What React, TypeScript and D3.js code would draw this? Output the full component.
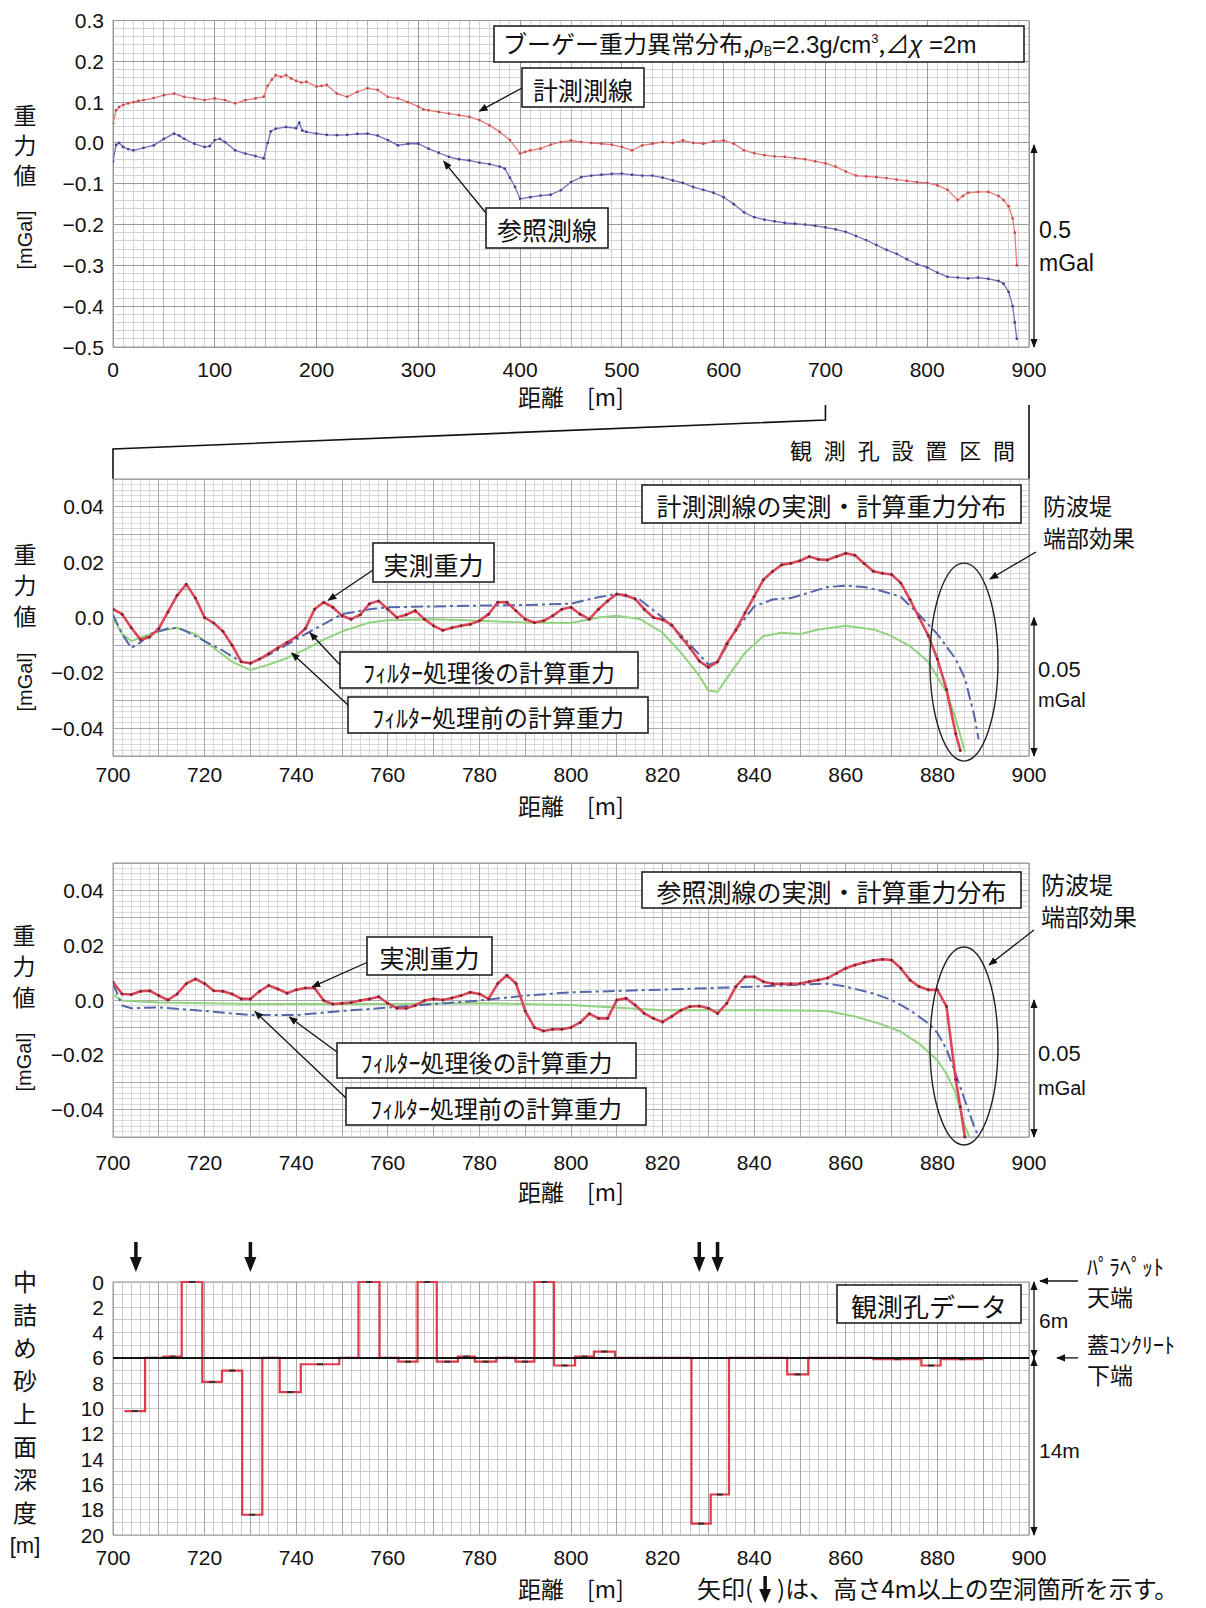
import { useEffect, useRef } from 'react';
import * as d3 from 'd3';

// ---------- top panel : Bouguer anomaly 0-900 m ----------
const surveyDist = [0, 3, 6, 10, 15, 20, 25, 30, 40, 50, 60, 70, 80, 90, 100, 110, 120, 130, 140, 148, 152, 156, 160, 165, 170, 175, 180, 185, 190, 200, 205, 210, 220, 230, 240, 250, 260, 270, 280, 290, 300, 305, 310, 320, 330, 340, 350, 360, 370, 380, 390, 400, 405, 410, 420, 430, 440, 450, 460, 470, 480, 490, 500, 510, 520, 530, 540, 550, 560, 570, 580, 590, 600, 610, 620, 630, 640, 650, 660, 670, 680, 690, 700, 710, 720, 730, 740, 750, 760, 770, 780, 790, 800, 810, 820, 830, 835, 840, 850, 860, 870, 875, 880, 884, 886, 888];
const surveyVal = [0.048, 0.08, 0.088, 0.093, 0.097, 0.1, 0.103, 0.105, 0.11, 0.117, 0.121, 0.113, 0.109, 0.105, 0.109, 0.105, 0.097, 0.105, 0.109, 0.113, 0.14, 0.155, 0.166, 0.162, 0.166, 0.158, 0.152, 0.148, 0.15, 0.138, 0.14, 0.142, 0.121, 0.113, 0.125, 0.134, 0.13, 0.113, 0.109, 0.1, 0.089, 0.082, 0.08, 0.076, 0.072, 0.068, 0.064, 0.056, 0.043, 0.027, 0.007, -0.026, -0.022, -0.018, -0.014, -0.004, 0.002, 0.006, 0.002, 0.0, -0.002, -0.004, -0.01, -0.018, -0.006, -0.002, 0.002, 0.0, 0.006, 0.0, -0.002, 0.004, 0.006, -0.002, -0.018, -0.025, -0.03, -0.033, -0.034, -0.037, -0.04, -0.045, -0.05, -0.058, -0.07, -0.08, -0.082, -0.084, -0.086, -0.09, -0.093, -0.096, -0.098, -0.104, -0.115, -0.14, -0.13, -0.122, -0.12, -0.12, -0.13, -0.14, -0.155, -0.185, -0.22, -0.3];

const refDist = [0, 3, 6, 10, 15, 20, 30, 40, 50, 60, 65, 70, 80, 90, 95, 100, 105, 110, 120, 130, 140, 148, 152, 155, 160, 170, 180, 183, 186, 190, 200, 210, 220, 230, 240, 250, 260, 270, 280, 290, 300, 310, 320, 330, 340, 350, 360, 370, 380, 385, 390, 395, 400, 410, 420, 430, 440, 450, 460, 470, 480, 490, 500, 510, 520, 530, 540, 550, 560, 570, 580, 590, 600, 610, 620, 630, 640, 650, 660, 670, 680, 690, 700, 710, 720, 730, 740, 750, 760, 770, 780, 790, 800, 810, 820, 830, 840, 850, 860, 870, 875, 880, 884, 886, 888];
const refVal = [-0.045, -0.005, 0.0, -0.01, -0.015, -0.018, -0.012, -0.006, 0.01, 0.023, 0.018, 0.01, -0.002, -0.01, -0.008, 0.007, 0.01, 0.002, -0.018, -0.026, -0.032, -0.038, 0.0, 0.028, 0.035, 0.039, 0.036, 0.05, 0.03, 0.027, 0.023, 0.02, 0.019, 0.02, 0.022, 0.023, 0.018, 0.007, -0.006, -0.002, -0.002, -0.014, -0.024, -0.034, -0.04, -0.043, -0.048, -0.052, -0.058, -0.063, -0.085, -0.108, -0.137, -0.133, -0.129, -0.127, -0.116, -0.096, -0.084, -0.08, -0.078, -0.076, -0.075, -0.078, -0.08, -0.08, -0.085, -0.092, -0.098, -0.108, -0.115, -0.122, -0.133, -0.15, -0.17, -0.182, -0.188, -0.192, -0.196, -0.198, -0.2, -0.203, -0.207, -0.212, -0.218, -0.228, -0.238, -0.25, -0.262, -0.272, -0.285, -0.297, -0.305, -0.318, -0.328, -0.33, -0.332, -0.33, -0.333, -0.338, -0.345, -0.365, -0.4, -0.44, -0.48];

// ---------- panel 2 : survey line, 700-900 m ----------
const meas2Dist = [700, 702, 704, 706, 708, 710, 712, 714, 716, 718, 720, 722, 724, 726, 728, 730, 732, 734, 736, 738, 740, 742, 744, 746, 748, 750, 752, 754, 756, 758, 760, 762, 764, 766, 768, 770, 772, 774, 776, 778, 780, 782, 784, 786, 788, 790, 792, 794, 796, 798, 800, 802, 804, 806, 808, 810, 812, 814, 816, 818, 820, 822, 824, 826, 828, 830, 832, 834, 836, 838, 840, 842, 844, 846, 848, 850, 852, 854, 856, 858, 860, 862, 864, 866, 868, 870, 872, 874, 876, 878, 880, 882, 884, 885];
const meas2Val = [0.003, 0.0012, -0.0037, -0.008, -0.007, -0.004, 0.002, 0.008, 0.012, 0.007, 0.0, -0.002, -0.005, -0.01, -0.016, -0.0165, -0.015, -0.013, -0.011, -0.009, -0.007, -0.004, 0.003, 0.0055, 0.0037, 0.0006, -0.0006, 0.001, 0.005, 0.006, 0.003, 0.0, 0.001, 0.0025, -0.0006, -0.003, -0.0046, -0.0037, -0.003, -0.0024, -0.0012, 0.0012, 0.0055, 0.0055, 0.0024, -0.0006, -0.0018, -0.0012, 0.0006, 0.003, 0.0037, 0.0012, -0.0006, 0.003, 0.006, 0.0085, 0.008, 0.0067, 0.003, 0.0, -0.0008, -0.0027, -0.007, -0.011, -0.0157, -0.018, -0.016, -0.0095, -0.0045, 0.0017, 0.0076, 0.0136, 0.0166, 0.019, 0.0196, 0.0205, 0.022, 0.021, 0.0208, 0.022, 0.0232, 0.0225, 0.0195, 0.0167, 0.016, 0.0155, 0.0125, 0.0065, 0.0, -0.0065, -0.015, -0.026, -0.042, -0.048];
const after2Dist = [700, 702, 704, 706, 708, 710, 712, 714, 716, 720, 724, 728, 730, 734, 738, 742, 746, 750, 756, 760, 770, 780, 790, 800, 805, 810, 815, 820, 825, 830, 832, 836, 840, 844, 848, 852, 856, 860, 864, 868, 872, 876, 880, 884, 886, 888, 889];
const after2Val = [0.001, -0.006, -0.011, -0.009, -0.006, -0.005, -0.004, -0.0037, -0.005, -0.0085, -0.012, -0.016, -0.0165, -0.0135, -0.0098, -0.006, -0.0024, 0.0012, 0.003, 0.0037, 0.004, 0.0043, 0.0045, 0.005, 0.007, 0.0085, 0.0065, 0.0, -0.008, -0.017, -0.016, -0.0045, 0.004, 0.0065, 0.007, 0.009, 0.011, 0.0115, 0.011, 0.0095, 0.0075, 0.001, -0.006, -0.015, -0.022, -0.035, -0.044];
const before2Dist = [700, 702, 704, 706, 710, 714, 718, 722, 726, 730, 734, 738, 742, 746, 750, 756, 760, 770, 780, 790, 800, 806, 810, 815, 820, 824, 828, 830, 832, 834, 838, 842, 846, 850, 854, 860, 866, 870, 874, 878, 882, 884, 886];
const before2Val = [0.0, -0.006, -0.0085, -0.0073, -0.005, -0.0037, -0.006, -0.011, -0.016, -0.019, -0.017, -0.0146, -0.0115, -0.008, -0.005, -0.0018, -0.001, -0.0006, -0.0012, -0.0018, -0.002, 0.0, 0.0006, -0.0005, -0.0055, -0.0127, -0.021, -0.0264, -0.0268, -0.022, -0.0127, -0.0067, -0.0055, -0.006, -0.0043, -0.003, -0.0043, -0.0067, -0.0103, -0.016, -0.027, -0.0366, -0.0485];

// ---------- panel 3 : reference line, 700-900 m ----------
const meas3Dist = [700, 702, 704, 706, 708, 710, 712, 714, 716, 718, 720, 722, 724, 726, 728, 730, 732, 734, 736, 738, 740, 742, 744, 746, 748, 750, 752, 754, 756, 758, 760, 762, 764, 766, 768, 770, 772, 774, 776, 778, 780, 782, 784, 786, 788, 790, 792, 794, 796, 798, 800, 802, 804, 806, 808, 810, 812, 814, 816, 818, 820, 822, 824, 826, 828, 830, 832, 834, 836, 838, 840, 842, 844, 846, 848, 850, 852, 854, 856, 858, 860, 862, 864, 866, 868, 870, 872, 874, 876, 878, 880, 882, 884, 885, 886];
const meas3Val = [0.0065, 0.0022, 0.002, 0.0032, 0.0034, 0.0016, 0.0, 0.0022, 0.006, 0.0077, 0.006, 0.0034, 0.0032, 0.0022, 0.0004, 0.0004, 0.0032, 0.0053, 0.004, 0.0025, 0.0037, 0.0044, 0.0044, -0.0002, -0.0015, -0.0012, -0.0009, -0.0002, 0.0004, 0.0012, -0.0012, -0.003, -0.003, -0.002, -0.0002, 0.0004, 0.0, 0.0007, 0.0016, 0.0028, 0.0022, 0.0004, 0.006, 0.009, 0.006, -0.004, -0.01, -0.0113, -0.0107, -0.0107, -0.01, -0.0082, -0.005, -0.0067, -0.0067, 0.0, 0.0006, -0.0018, -0.0049, -0.0067, -0.008, -0.006, -0.0037, -0.0024, -0.0022, -0.003, -0.0049, -0.0012, 0.0049, 0.0085, 0.0085, 0.0067, 0.0059, 0.0059, 0.0059, 0.006, 0.0067, 0.0073, 0.008, 0.0098, 0.0116, 0.0128, 0.0137, 0.0144, 0.0149, 0.0146, 0.0116, 0.0073, 0.0049, 0.0037, 0.0037, -0.0024, -0.029, -0.039, -0.05];
const after3Dist = [700, 702, 704, 710, 720, 730, 740, 750, 760, 770, 780, 790, 800, 810, 820, 840, 856, 860, 866, 870, 874, 878, 880, 882, 884, 886, 888, 889];
const after3Val = [0.006, -0.002, -0.003, -0.0027, -0.004, -0.0055, -0.0055, -0.004, -0.0028, -0.0015, -0.0002, 0.0016, 0.0028, 0.0033, 0.0038, 0.0049, 0.006, 0.0049, 0.0024, 0.0, -0.0037, -0.0085, -0.012, -0.018, -0.027, -0.0366, -0.046, -0.05];
const before3Dist = [700, 702, 710, 720, 730, 740, 760, 780, 800, 820, 840, 850, 856, 862, 868, 872, 876, 880, 882, 884, 886, 887];
const before3Val = [0.002, -0.0002, -0.0009, -0.0012, -0.0015, -0.0015, -0.0015, -0.0012, -0.0018, -0.0037, -0.0037, -0.0038, -0.004, -0.006, -0.009, -0.0116, -0.0159, -0.022, -0.027, -0.034, -0.046, -0.05];

// ---------- panel 4 : borehole data (start of interval, sand depth) ----------
const holeStart = [702.5, 707, 711, 715, 719.5, 723.8, 728.2, 732.6, 736.4, 741, 749.4, 753.6, 758.2, 762.3, 766.5, 770.7, 775.3, 779, 783.7, 787.9, 792, 796.3, 800.9, 805, 809.6, 826.3, 830.5, 834.5, 847.2, 851.8, 866, 876.5, 880.7, 890];
const holeDepth = [10.2, 6.0, 5.9, 0, 7.9, 7.0, 18.4, 6.0, 8.7, 6.5, 6.0, 0, 6.0, 6.3, 0, 6.3, 5.9, 6.3, 6.0, 6.3, 0, 6.6, 5.9, 5.5, 6.0, 19.1, 16.8, 6.0, 7.3, 6.0, 6.1, 6.6, 6.1, 6.1];
const voidArrows = [705, 730, 828, 832];

const topXTicks = [0, 100, 200, 300, 400, 500, 600, 700, 800, 900];
const topYTicks = [0.3, 0.2, 0.1, 0.0, -0.1, -0.2, -0.3, -0.4, -0.5];
const zoomXTicks = [700, 720, 740, 760, 780, 800, 820, 840, 860, 880, 900];
const zoomYTicks = [0.04, 0.02, 0.0, -0.02, -0.04];
const zoomYLabels = ['0.04', '0.02', '0.0', '\u22120.02', '\u22120.04'];
const depthTicks = [0, 2, 4, 6, 8, 10, 12, 14, 16, 18, 20];

const JP = '"Noto Sans CJK JP", sans-serif';
const NUM = '"Liberation Sans", Arial, sans-serif';

function App() {
    const svgRef = useRef(null);

    useEffect(() => {
        const svg = d3.select(svgRef.current);
        svg.selectAll('*').remove();
        svg.append('rect').attr('width', 1206).attr('height', 1608).attr('fill', '#fff');

        const defs = svg.append('defs');
        defs.append('marker').attr('id', 'ah')
            .attr('viewBox', '0 0 10 10').attr('refX', 9).attr('refY', 5)
            .attr('markerWidth', 9).attr('markerHeight', 9)
            .attr('markerUnits', 'userSpaceOnUse')
            .attr('orient', 'auto-start-reverse')
            .append('path').attr('d', 'M0,1 L10,5 L0,9 z').attr('fill', '#111');

        const steps = (a, b, s) => d3.range(0, Math.round((b - a) / s) + 1).map(i => a + i * s);

        // grid lines across a plot area
        const grid = (x, y, xs, ys, color, w) => {
            const [xa, xb] = x.range();
            const [ya, yb] = y.range();
            const g = svg.append('g').attr('shape-rendering', 'crispEdges');
            g.selectAll('line.v').data(xs).join('line')
                .attr('x1', d => x(d)).attr('x2', d => x(d)).attr('y1', ya).attr('y2', yb)
                .attr('stroke', color).attr('stroke-width', w);
            g.selectAll('line.h').data(ys).join('line')
                .attr('x1', xa).attr('x2', xb).attr('y1', d => y(d)).attr('y2', d => y(d))
                .attr('stroke', color).attr('stroke-width', w);
        };

        const text = (x, y, s, size, opts = {}) => svg.append('text')
            .attr('x', x).attr('y', y).text(s)
            .attr('font-family', opts.font || JP).attr('font-size', size)
            .attr('fill', '#111')
            .attr('text-anchor', opts.anchor || 'start')
            .attr('dominant-baseline', opts.baseline || 'auto');

        const box = (x0, y0, x1, y1, s, size) => {
            svg.append('rect').attr('x', x0).attr('y', y0).attr('width', x1 - x0).attr('height', y1 - y0)
                .attr('fill', '#fff').attr('stroke', '#222').attr('stroke-width', 1.6);
            return text((x0 + x1) / 2, (y0 + y1) / 2 + 1, s, size, { anchor: 'middle', baseline: 'central' });
        };

        const arrow = (x0, y0, x1, y1, both = false, w = 1.3) => {
            const l = svg.append('line').attr('x1', x0).attr('y1', y0).attr('x2', x1).attr('y2', y1)
                .attr('stroke', '#111').attr('stroke-width', w).attr('marker-end', 'url(#ah)');
            if (both) l.attr('marker-start', 'url(#ah)');
        };

        const clip = (id, x, y) => {
            const [xa, xb] = x.range();
            const [ya, yb] = y.range();
            defs.append('clipPath').attr('id', id).append('rect')
                .attr('x', xa).attr('y', Math.min(ya, yb) - 2).attr('width', xb - xa).attr('height', Math.abs(yb - ya) + 4);
        };

        const series = (x, y, xs, ys, clipId, o) => {
            const pts = xs.map((d, i) => [d, ys[i]]);
            const line = d3.line().x(d => x(d[0])).y(d => y(d[1]));
            const g = svg.append('g').attr('clip-path', `url(#${clipId})`);
            g.append('path').attr('d', line(pts)).attr('fill', 'none')
                .attr('stroke', o.color).attr('stroke-width', o.width)
                .attr('stroke-dasharray', o.dash || null).attr('stroke-linejoin', 'round');
            if (o.dot) {
                g.selectAll('circle').data(pts).join('circle')
                    .attr('cx', d => x(d[0])).attr('cy', d => y(d[1])).attr('r', o.dotR)
                    .attr('fill', o.dot);
            }
        };

        const frame = (x, y) => {
            const [xa, xb] = x.range();
            const [ya, yb] = y.range();
            svg.append('rect').attr('x', xa).attr('y', Math.min(ya, yb)).attr('width', xb - xa)
                .attr('height', Math.abs(yb - ya)).attr('fill', 'none').attr('stroke', '#999').attr('stroke-width', 1);
        };

        const xAxisLabels = (x, ticks, yBase) => ticks.forEach(t =>
            text(x(t), yBase, String(t), 21, { font: NUM, anchor: 'middle' }));

        // stacked vertical label: one text in vertical writing mode
        const vertLabel = (s, xc, yc, size, spacing) => svg.append('text')
            .attr('x', xc).attr('y', yc).text(s)
            .attr('font-family', JP).attr('font-size', size).attr('fill', '#111')
            .attr('text-anchor', 'middle')
            .style('writing-mode', 'vertical-rl')
            .style('letter-spacing', `${spacing}px`);

        const rotLabel = (s, xc, yc, size) => svg.append('text')
            .attr('transform', `translate(${xc},${yc}) rotate(-90)`)
            .attr('text-anchor', 'middle').attr('dominant-baseline', 'central')
            .attr('font-family', NUM).attr('font-size', size).attr('fill', '#111').text(s);

        // ================= panel 1 =================
        const x1 = d3.scaleLinear().domain([0, 900]).range([113, 1029]);
        const y1 = d3.scaleLinear().domain([-0.5, 0.3]).range([347, 20.5]);
        grid(x1, y1, steps(0, 900, 10), steps(-0.5, 0.3, 0.02), '#d4d4d4', 1);
        grid(x1, y1, steps(0, 900, 50), [], '#b8b8b8', 1);
        grid(x1, y1, steps(0, 900, 100), steps(-0.5, 0.3, 0.1), '#9a9a9a', 1);
        frame(x1, y1);
        clip('c1', x1, y1);
        series(x1, y1, surveyDist, surveyVal, 'c1', { color: '#e77a7a', width: 1.3, dot: '#c94b4b', dotR: 1.4 });
        series(x1, y1, refDist, refVal, 'c1', { color: '#7070bb', width: 1.3, dot: '#45458f', dotR: 1.4 });

        topYTicks.forEach(t => text(104, y1(t), d3.format('.1f')(t), 21, { font: NUM, anchor: 'end', baseline: 'central' }));
        xAxisLabels(x1, topXTicks, 377);
        text(518, 406, '距離　[m]', 23);
        vertLabel('重力値', 25, 149, 23, 7);
        rotLabel('[mGal]', 25, 240, 20);

        // title box with sub/superscripts
        svg.append('rect').attr('x', 494).attr('y', 26).attr('width', 530).attr('height', 36)
            .attr('fill', '#fff').attr('stroke', '#222').attr('stroke-width', 1.6);
        const tt = svg.append('text').attr('x', 503).attr('y', 53)
            .attr('font-family', JP).attr('font-size', 24).attr('fill', '#111');
        tt.append('tspan').text('ブーゲー重力異常分布,');
        tt.append('tspan').attr('font-family', NUM).attr('font-style', 'italic').text('ρ');
        tt.append('tspan').attr('font-size', 13).attr('dy', 3).text('B');
        tt.append('tspan').attr('font-family', NUM).attr('dy', -3).text('=2.3g/cm');
        tt.append('tspan').attr('font-family', NUM).attr('font-size', 13).attr('dy', -10).text('3');
        tt.append('tspan').attr('dy', 10).text(',⊿');
        tt.append('tspan').attr('font-family', NUM).attr('font-style', 'italic').text('χ');
        tt.append('tspan').attr('font-family', NUM).text(' =2m');

        arrow(522, 88, x1(360), y1(0.078));
        box(522, 68, 644, 107, '計測測線', 25);
        arrow(486, 213, x1(325), y1(-0.045));
        box(486, 208, 608, 248, '参照測線', 25);

        arrow(1034, y1(-0.005), 1034, y1(-0.5), true);
        text(1039, 238, '0.5', 23, { font: NUM });
        text(1039, 271, 'mGal', 23, { font: NUM });

        // connectors to the zoomed range
        svg.append('polyline')
            .attr('points', `${x1(700)},405 ${x1(700)},420 113,449 113,479`)
            .attr('fill', 'none').attr('stroke', '#111').attr('stroke-width', 1.6);
        svg.append('line').attr('x1', x1(900)).attr('x2', x1(900)).attr('y1', 405).attr('y2', 479)
            .attr('stroke', '#111').attr('stroke-width', 1.6);
        text(790, 459, '観測孔設置区間', 22).attr('textLength', 225).attr('lengthAdjust', 'spacing');

        // ================= panels 2 & 3 =================
        const xz = d3.scaleLinear().domain([700, 900]).range([113, 1029]);

        const zoomPanel = (y, id, meas, measV, aft, aftV, bef, befV) => {
            grid(xz, y, steps(700, 900, 2), steps(-0.05, 0.05, 0.002), '#d9d9d9', 1);
            grid(xz, y, steps(700, 900, 10), steps(-0.05, 0.05, 0.01), '#aaaaaa', 1);
            frame(xz, y);
            clip(id, xz, y);
            series(xz, y, bef, befV, id, { color: '#93d27e', width: 2 });
            series(xz, y, aft, aftV, id, { color: '#5566aa', width: 2, dash: '12 4 3 4' });
            series(xz, y, meas, measV, id, { color: '#dc4658', width: 2.6, dot: '#7a2634', dotR: 1.5 });
            zoomYTicks.forEach((t, i) => text(104, y(t), zoomYLabels[i], 21, { font: NUM, anchor: 'end', baseline: 'central' }));
            arrow(1034, y(0), 1034, y(-0.05), true);
        };

        const y2 = d3.scaleLinear().domain([-0.05, 0.05]).range([756, 479]);
        zoomPanel(y2, 'c2', meas2Dist, meas2Val, after2Dist, after2Val, before2Dist, before2Val);
        xAxisLabels(xz, zoomXTicks, 782);
        text(518, 815, '距離　[m]', 23);
        vertLabel('重力値', 25, 589, 23, 8);
        rotLabel('[mGal]', 25, 682, 20);
        text(1038, 677, '0.05', 22, { font: NUM });
        text(1038, 707, 'mGal', 20, { font: NUM });
        box(642, 485, 1021, 523, '計測測線の実測・計算重力分布', 25);
        text(1043, 505, '防波堤', 23, { baseline: 'central' });
        text(1043, 537, '端部効果', 23, { baseline: 'central' });
        svg.append('ellipse').attr('cx', xz(885.8)).attr('cy', y2(-0.0161)).attr('rx', 34).attr('ry', 99)
            .attr('fill', 'none').attr('stroke', '#222').attr('stroke-width', 1.4);
        arrow(1036, 552, 990, 579);
        arrow(373, 570, xz(747), y2(0.0062));
        box(373, 543, 494, 582, '実測重力', 25);
        arrow(342, 667, xz(743), y2(-0.0055));
        box(340, 652, 638, 688, 'ﾌｨﾙﾀｰ処理後の計算重力', 24);
        arrow(348, 705, xz(739), y2(-0.0128));
        box(348, 697, 648, 733, 'ﾌｨﾙﾀｰ処理前の計算重力', 24);

        const y3 = d3.scaleLinear().domain([-0.05, 0.05]).range([1137, 863]);
        zoomPanel(y3, 'c3', meas3Dist, meas3Val, after3Dist, after3Val, before3Dist, before3Val);
        xAxisLabels(xz, zoomXTicks, 1170);
        text(518, 1201, '距離　[m]', 23);
        vertLabel('重力値', 24, 970, 23, 8);
        rotLabel('[mGal]', 24, 1062, 20);
        text(1038, 1061, '0.05', 22, { font: NUM });
        text(1038, 1095, 'mGal', 20, { font: NUM });
        box(642, 872, 1021, 908, '参照測線の実測・計算重力分布', 25);
        text(1041, 883, '防波堤', 24, { baseline: 'central' });
        text(1041, 915, '端部効果', 24, { baseline: 'central' });
        svg.append('ellipse').attr('cx', xz(885.8)).attr('cy', y3(-0.0168)).attr('rx', 34).attr('ry', 99)
            .attr('fill', 'none').attr('stroke', '#222').attr('stroke-width', 1.4);
        arrow(1034, 930, 989, 965);
        arrow(368, 962, xz(743.5), y3(0.0048));
        box(367, 937, 492, 975, '実測重力', 25);
        arrow(337, 1052, xz(738.5), y3(-0.0062));
        box(337, 1043, 636, 1078, 'ﾌｨﾙﾀｰ処理後の計算重力', 24);
        arrow(346, 1098, xz(731), y3(-0.0042));
        box(346, 1088, 646, 1125, 'ﾌｨﾙﾀｰ処理前の計算重力', 24);

        // ================= panel 4 =================
        const y4 = d3.scaleLinear().domain([0, 20]).range([1282, 1535]);
        grid(xz, y4, steps(700, 900, 2), steps(0, 20, 1), '#c9c9c9', 1);
        grid(xz, y4, steps(700, 900, 10), [], '#a6a6a6', 1);
        frame(xz, y4);
        const pts = holeStart.map((d, i) => [d, holeDepth[i]]);
        const step = d3.line().x(d => xz(d[0])).y(d => y4(d[1])).curve(d3.curveStepAfter);
        svg.append('path').attr('d', step(pts)).attr('fill', 'none')
            .attr('stroke', '#de3b4b').attr('stroke-width', 2.2);
        // marks at hole centre
        svg.append('g').selectAll('line').data(pts.slice(0, -1)).join('line')
            .attr('x1', (d, i) => (xz(d[0]) + xz(pts[i + 1][0])) / 2 - 3)
            .attr('x2', (d, i) => (xz(d[0]) + xz(pts[i + 1][0])) / 2 + 3)
            .attr('y1', d => y4(d[1])).attr('y2', d => y4(d[1]))
            .attr('stroke', '#333').attr('stroke-width', 2);
        svg.append('line').attr('x1', xz(700)).attr('x2', xz(900)).attr('y1', y4(6)).attr('y2', y4(6))
            .attr('stroke', '#111').attr('stroke-width', 2);

        // void markers
        voidArrows.forEach(v => {
            const cx = xz(v);
            svg.append('line').attr('x1', cx).attr('x2', cx).attr('y1', 1242).attr('y2', 1260)
                .attr('stroke', '#111').attr('stroke-width', 3.5);
            svg.append('path').attr('d', `M${cx - 6},1257 L${cx + 6},1257 L${cx},1272 z`).attr('fill', '#111');
        });

        depthTicks.forEach(t => text(104, y4(t), String(t), 21, { font: NUM, anchor: 'end', baseline: 'central' }));
        xAxisLabels(xz, zoomXTicks, 1565);
        text(518, 1598, '距離　[m]', 23);

        // note with a drawn arrow in the gap
        const note = text(697, 1598, '矢印(　)は、高さ4m以上の空洞箇所を示す。', 24);
        const nn = note.node();
        let gapX = 697 + 62;
        try { gapX = 697 + nn.getSubStringLength(0, 3) + nn.getSubStringLength(3, 1) / 2; } catch (e) { /* keep estimate */ }
        svg.append('line').attr('x1', gapX).attr('x2', gapX).attr('y1', 1576).attr('y2', 1592)
            .attr('stroke', '#111').attr('stroke-width', 3.5);
        svg.append('path').attr('d', `M${gapX - 6},1589 L${gapX + 6},1589 L${gapX},1603 z`).attr('fill', '#111');

        vertLabel('中詰め砂上面深度', 25, 1402, 24, 9);
        text(25, 1545, '[m]', 22, { font: NUM, anchor: 'middle', baseline: 'central' });

        box(837, 1285, 1021, 1323, '観測孔データ', 26);
        arrow(1034, y4(0), 1034, y4(6), true);
        arrow(1034, y4(6), 1034, y4(20), true);
        text(1039, 1328, '6m', 21, { font: NUM });
        text(1039, 1458, '14m', 21, { font: NUM });
        arrow(1078, 1281, 1040, 1281);
        arrow(1078, y4(6), 1057, y4(6));
        text(1087, 1275, 'ﾊﾟﾗﾍﾟｯﾄ', 22);
        text(1087, 1306, '天端', 23);
        text(1087, 1353, '蓋ｺﾝｸﾘｰﾄ', 22);
        text(1087, 1384, '下端', 23);
    }, []);

    return <svg ref={svgRef} width={1206} height={1608}
        style={{ position: 'absolute', left: 0, top: 0 }} />;
}

export default App;
